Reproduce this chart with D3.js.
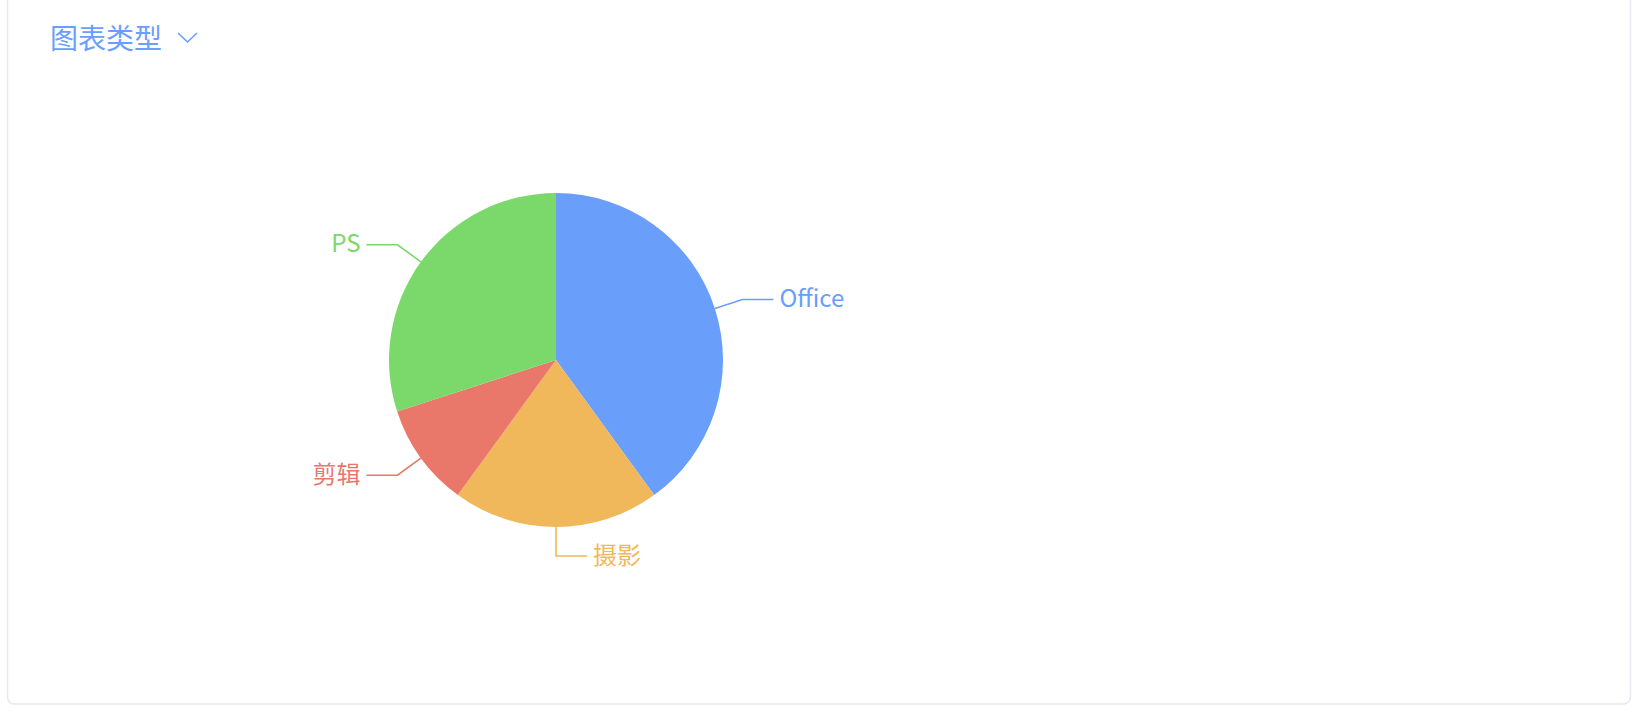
<!DOCTYPE html>
<html>
<head>
<meta charset="utf-8">
<script src="https://cdn.jsdelivr.net/npm/d3@7"></script>
<style>
  html, body { margin: 0; padding: 0; background: #fff; }
  svg { display: block; }
</style>
</head>
<body>
<svg id="chart"></svg>
<script>
// data
const categories = ["Office", "摄影", "剪辑", "PS"];
const values = [40, 20, 10, 30];
const colors = ["#699efb", "#f0b85a", "#e9776a", "#7ad96a"];
const title = "图表类型";

const width = 1640, height = 715;
const cx = 556, cy = 360, radius = 167;
const len1 = 29, len2 = 31;

const svg = d3.select("#chart")
    .attr("width", width)
    .attr("height", height)
    .attr("font-family", "'Noto Sans CJK SC', 'Noto Sans', sans-serif");

// card
svg.append("rect")
    .attr("x", 7.5).attr("y", -20)
    .attr("width", 1623).attr("height", 724)
    .attr("rx", 7)
    .attr("fill", "#fff")
    .attr("stroke", "#e6e9f2")
    .attr("stroke-width", 1.5);

// title + chevron
svg.append("text")
    .attr("x", 50).attr("y", 37)
    .attr("dominant-baseline", "central")
    .attr("font-size", 28)
    .attr("fill", "#6a9efb")
    .text(title);

svg.append("path")
    .attr("d", "M178,33 L187.5,42 L197,33")
    .attr("fill", "none")
    .attr("stroke", "#6a9efb")
    .attr("stroke-width", 1.6);

const color = d3.scaleOrdinal().domain(categories).range(colors);

const pie = d3.pie().sort(null).value((d, i) => values[i]);
const arcs = pie(categories);

const arc = d3.arc().innerRadius(0).outerRadius(radius);

const g = svg.append("g").attr("transform", `translate(${cx},${cy})`);

g.selectAll("path.slice")
    .data(arcs)
    .join("path")
      .attr("class", "slice")
      .attr("d", arc)
      .attr("fill", d => color(d.data));

// label lines, echarts style: out along mid-angle then horizontal
const pt = (a, r) => [r * Math.sin(a), -r * Math.cos(a)];

const lab = g.selectAll("g.lab")
    .data(arcs)
    .join("g")
      .attr("class", "lab");

lab.each(function(d) {
    const mid = (d.startAngle + d.endAngle) / 2;
    const right = Math.sin(mid) > -1e-6;
    const p1 = pt(mid, radius);
    const p2 = pt(mid, radius + len1);
    const p3 = [p2[0] + (right ? len2 : -len2), p2[1]];
    const sel = d3.select(this);
    sel.append("path")
        .attr("d", d3.line()([p1, p2, p3]))
        .attr("fill", "none")
        .attr("stroke", color(d.data))
        .attr("stroke-width", 1.6);
    sel.append("text")
        .attr("x", p3[0] + (right ? 6 : -6))
        .attr("y", p3[1] - 3)
        .attr("text-anchor", right ? "start" : "end")
        .attr("dominant-baseline", "central")
        .attr("font-size", 24)
        .attr("fill", color(d.data))
        .text(d.data);
});
</script>
</body>
</html>
